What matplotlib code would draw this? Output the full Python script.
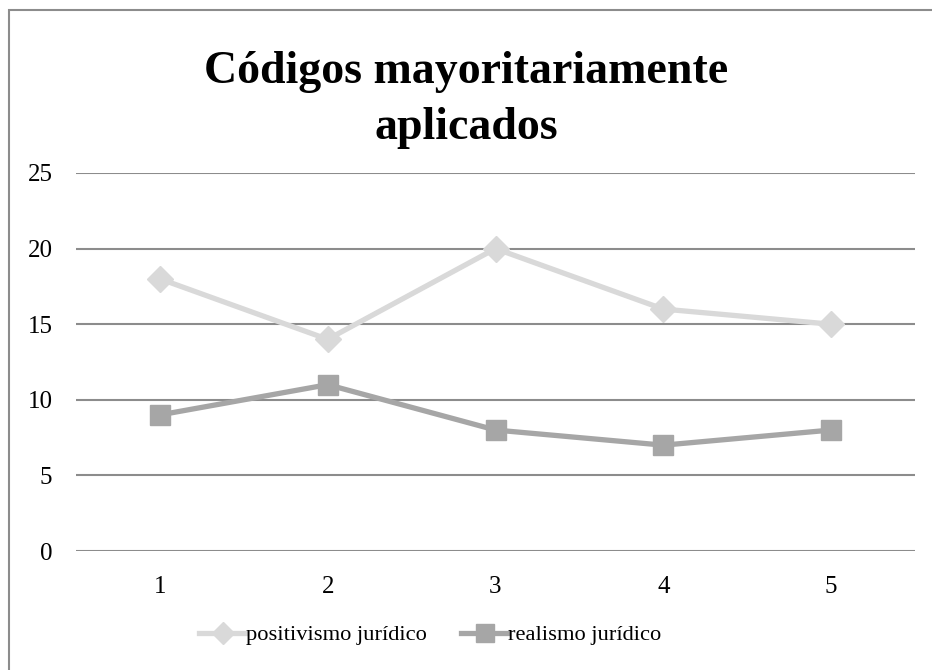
import matplotlib
matplotlib.use("Agg")
import matplotlib.pyplot as plt
from matplotlib.patches import Rectangle

categories = ["1", "2", "3", "4", "5"]
positivismo = [18, 14, 20, 16, 15]
realismo = [9, 11, 8, 7, 8]
y_ticks = [0, 5, 10, 15, 20, 25]

plt.rcParams["font.family"] = ["Liberation Serif", "DejaVu Serif"]

fig = plt.figure(figsize=(9.32, 6.70), dpi=100)
ax = fig.add_axes([76 / 932, 1 - 551 / 670, (915 - 76) / 932, (551 - 173) / 670])

x = range(1, len(categories) + 1)
ax.plot(x, positivismo, color="#d9d9d9", lw=3.8, marker="D", ms=13,
        mec="#d9d9d9", mfc="#d9d9d9", label="positivismo jurídico", zorder=3)
ax.plot(x, realismo, color="#a6a6a6", lw=3.8, marker="s", ms=14.5,
        mec="#a6a6a6", mfc="#a6a6a6", label="realismo jurídico", zorder=3)

ax.set_xlim(0.5, len(categories) + 0.5)
ax.set_ylim(0, 25)
ax.set_xticks(list(x))
ax.set_xticklabels(categories)
ax.set_yticks(y_ticks)
ax.tick_params(length=0, labelsize=18)
ax.tick_params(axis="x", pad=18)
ax.tick_params(axis="y", pad=17)
for s in ax.spines.values():
    s.set_visible(False)
ax.grid(axis="y", color="#8c8c8c", lw=1.5)
ax.set_axisbelow(True)

fig.text(0.5, 1 - 100 / 670, "Códigos mayoritariamente\naplicados", ha="center",
         va="center", fontsize=33, fontweight="bold", linespacing=1.45)

ax.legend(loc="center left", bbox_to_anchor=((199 - 76) / (915 - 76), (551 - 635) / (551 - 173)),
          ncol=2, frameon=False, fontsize=16.2, handlelength=2.1, markerscale=0.85,
          handletextpad=0.0, columnspacing=1.5, borderpad=0, borderaxespad=0)

# border of the chart area (only left and top visible)
fig.patches.append(Rectangle((8.5 / 932, -0.1), 1.2, 1 - 10.5 / 670 + 0.1,
                             transform=fig.transFigure, fill=False,
                             ec="#8c8c8c", lw=1.5))

fig.savefig("out.png", dpi=100)
